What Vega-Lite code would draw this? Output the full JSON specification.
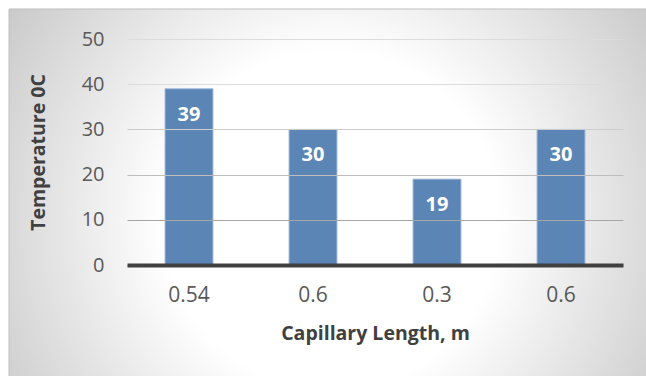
{
  "$schema": "https://vega.github.io/schema/vega-lite/v6.json",
  "width": 496,
  "height": 226,
  "autosize": "none",
  "padding": {"left": 127, "top": 39, "right": 23, "bottom": 111},
  "background": "#ffffff",
  "config": {
    "view": {"stroke": null},
    "font": "Open Sans"
  },
  "data": {
    "values": [
      {"length": "0.54", "temp": 39},
      {"length": "0.6 (1)", "temp": 30},
      {"length": "0.3", "temp": 19},
      {"length": "0.6 (2)", "temp": 30}
    ]
  },
  "layer": [
    {
      "description": "Chart-area panel with a soft radial shading behind everything",
      "data": {"values": [{}]},
      "mark": {
        "type": "rect",
        "width": 856,
        "stroke": "#bfbfbf",
        "strokeWidth": 1,
        "fill": {
          "gradient": "radial",
          "x1": 0.398, "y1": 0.203, "r1": 0,
          "x2": 0.398, "y2": 0.203, "r2": 0.385,
          "stops": [
            {"offset": 0, "color": "#ffffff"},
            {"offset": 0.42, "color": "#ffffff"},
            {"offset": 1, "color": "#c6c6c6"}
          ]
        }
      },
      "encoding": {
        "x": {"datum": "0.3", "type": "nominal"},
        "y": {"datum": 56.64, "type": "quantitative"},
        "y2": {"datum": -173.2}
      }
    },
    {
      "mark": {
        "type": "bar",
        "fill": "#5b85b4",
        "stroke": "#a6bedd",
        "strokeWidth": 1
      },
      "encoding": {
        "x": {
          "field": "length",
          "type": "nominal",
          "sort": null,
          "scale": {
            "domain": ["0.54", "0.6 (1)", "0.3", "0.6 (2)"],
            "paddingInner": 0.613,
            "paddingOuter": 0.3065
          },
          "axis": {
            "title": "Capillary Length, m",
            "bandPosition": 0.5,
            "labelExpr": "split(datum.value, ' ')[0]",
            "labelAngle": 0,
            "labelAlign": "center",
            "labelFontSize": 21,
            "labelColor": "#595959",
            "labelPadding": 30,
            "ticks": false,
            "tickSize": 0,
            "domain": true,
            "domainColor": "#404040",
            "domainWidth": 4,
            "grid": false,
            "titleFontSize": 19.5,
            "titleFontWeight": "bold",
            "titleColor": "#404040",
            "titlePadding": 19,
            "zindex": 1
          }
        },
        "y": {
          "field": "temp",
          "type": "quantitative",
          "scale": {"domain": [0, 50], "nice": false, "zero": true},
          "axis": {
            "title": "Temperature 0C",
            "values": [0, 10, 20, 30, 40, 50],
            "domain": false,
            "ticks": false,
            "tickSize": 0,
            "labelFontSize": 20,
            "labelColor": "#595959",
            "labelPadding": 23,
            "grid": true,
            "gridWidth": 1,
            "gridColor": {
              "condition": [
                {"test": "datum.value == 10", "value": "#a6a6a6"},
                {"test": "datum.value == 20", "value": "#bdbdbd"},
                {"test": "datum.value == 30", "value": "#cccccc"},
                {"test": "datum.value == 0", "value": "#a6a6a6"}
              ],
              "value": "#dcdcdc"
            },
            "titleFontSize": 19.5,
            "titleFontWeight": "bold",
            "titleColor": "#404040",
            "titlePadding": 33,
            "zindex": 1
          }
        },
        "y2": {"datum": 0}
      }
    },
    {
      "mark": {
        "type": "text",
        "color": "#ffffff",
        "fontWeight": "bold",
        "fontSize": 20,
        "baseline": "middle",
        "dy": 26
      },
      "encoding": {
        "x": {"field": "length", "type": "nominal", "sort": null},
        "y": {"field": "temp", "type": "quantitative"},
        "text": {"field": "temp", "type": "quantitative"}
      }
    }
  ]
}
